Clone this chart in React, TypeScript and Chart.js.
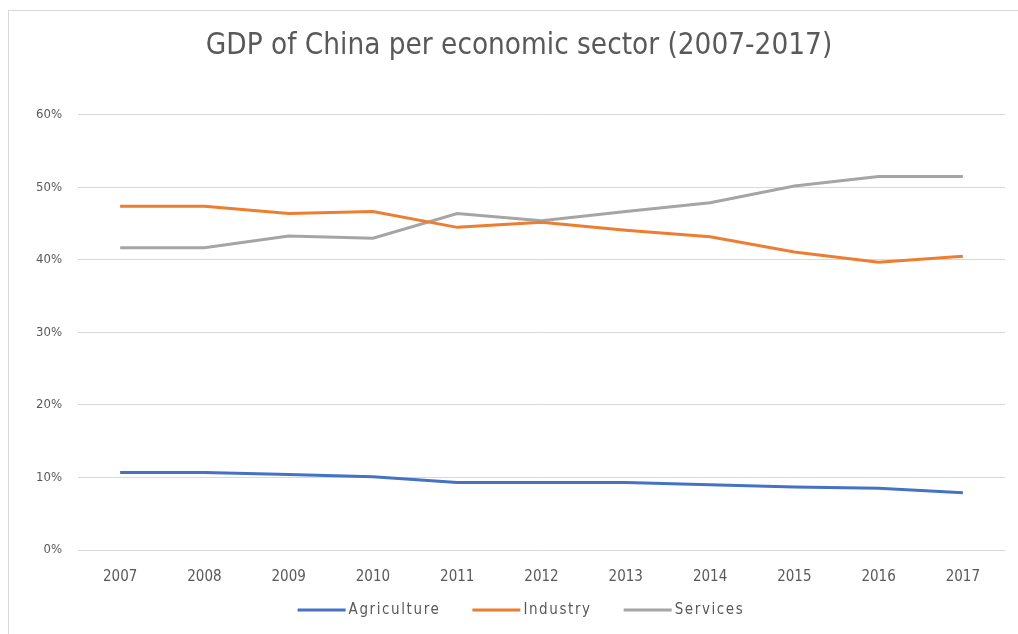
import React, { useEffect, useRef } from "react";
import { Chart, registerables } from "chart.js";

Chart.register(...registerables);

const categories = ["2007", "2008", "2009", "2010", "2011", "2012", "2013", "2014", "2015", "2016", "2017"];
const agriculture = [10.7, 10.7, 10.4, 10.1, 9.3, 9.3, 9.3, 9.0, 8.7, 8.5, 7.9];
const industry = [47.4, 47.4, 46.4, 46.7, 44.5, 45.2, 44.1, 43.2, 41.1, 39.7, 40.5];
const services = [41.7, 41.7, 43.3, 43.0, 46.4, 45.4, 46.7, 47.9, 50.2, 51.5, 51.5];
const seriesNames = ["Agriculture", "Industry", "Services"];
const seriesColors = ["#4472C4", "#ED7D31", "#A5A5A5"];
const titleText = "GDP of China per economic sector (2007-2017)";
const yMin = 0;
const yMax = 60;
const yStep = 10;

const FONT = '"Liberation Sans Narrow", "DejaVu Sans Condensed", "Open Sans", sans-serif';
const TEXT = "#595959";

const legendPlugin = {
  id: "excelLegend",
  afterDraw(chart: any) {
    const ctx = chart.ctx as CanvasRenderingContext2D;
    const items = chart.data.datasets.map((d: any) => ({ text: d.label, color: d.borderColor }));
    const lineLen = 48;
    const gap = 3;
    const itemGap = 32;
    ctx.save();
    ctx.font = `15px ${FONT}`;
    (ctx as any).letterSpacing = "1.6px";
    const widths = items.map((it: any) => lineLen + gap + ctx.measureText(it.text).width);
    const total = widths.reduce((a: number, b: number) => a + b, 0) + itemGap * (items.length - 1);
    let x = 521 - total / 2;
    const y = 610;
    ctx.textBaseline = "middle";
    ctx.textAlign = "left";
    items.forEach((it: any, i: number) => {
      ctx.strokeStyle = it.color;
      ctx.lineWidth = 3;
      ctx.beginPath();
      ctx.moveTo(x, y);
      ctx.lineTo(x + lineLen, y);
      ctx.stroke();
      ctx.fillStyle = TEXT;
      ctx.fillText(it.text, x + lineLen + gap, y);
      x += widths[i] + itemGap;
    });
    ctx.restore();
  },
};

export default function App() {
  const ref = useRef<HTMLCanvasElement | null>(null);
  useEffect(() => {
    if (!ref.current) return;
    const chart = new Chart(ref.current, {
      type: "line",
      data: {
        labels: categories,
        datasets: [
          { label: seriesNames[0], data: agriculture, borderColor: seriesColors[0], backgroundColor: seriesColors[0] },
          { label: seriesNames[1], data: industry, borderColor: seriesColors[1], backgroundColor: seriesColors[1] },
          { label: seriesNames[2], data: services, borderColor: seriesColors[2], backgroundColor: seriesColors[2] },
        ].map((d) => ({ ...d, borderWidth: 3, pointRadius: 0, tension: 0, fill: false })),
      },
      options: {
        animation: false,
        responsive: false,
        maintainAspectRatio: false,
        layout: { padding: { left: 33, right: 13, top: 0, bottom: 44 } },
        plugins: {
          title: {
            display: true,
            text: titleText,
            color: TEXT,
            font: { family: FONT, size: 29.4, weight: "normal" },
            padding: { top: 28.4, bottom: 51.3 },
          },
          legend: { display: false },
          tooltip: { enabled: false },
        },
        scales: {
          x: {
            offset: true,
            afterFit: (s: any) => {
              s.height = 40;
            },
            grid: { display: false, drawTicks: false },
            border: { display: false },
            ticks: { color: TEXT, font: { family: FONT, size: 15 }, padding: 18, maxRotation: 0 },
          },
          y: {
            min: yMin,
            max: yMax,
            afterFit: (s: any) => {
              s.width = 45;
            },
            border: { display: false },
            grid: { color: "#D9D9D9", lineWidth: 1, drawTicks: false },
            ticks: {
              stepSize: yStep,
              color: TEXT,
              font: { family: FONT, size: 13 },
              padding: 16,
              callback: (v: any) => v + "%",
            },
          },
        },
      },
      plugins: [legendPlugin],
    });
    return () => chart.destroy();
  }, []);
  return (
    <>
      <div
        style={{
          position: "fixed",
          left: 8,
          top: 10,
          width: 1030,
          height: 650,
          border: "1px solid #D9D9D9",
          boxSizing: "border-box",
        }}
      />
      <canvas
        ref={ref}
        width={1018}
        height={634}
        style={{ position: "fixed", left: 0, top: 0, width: 1018, height: 634 }}
      />
    </>
  );
}
